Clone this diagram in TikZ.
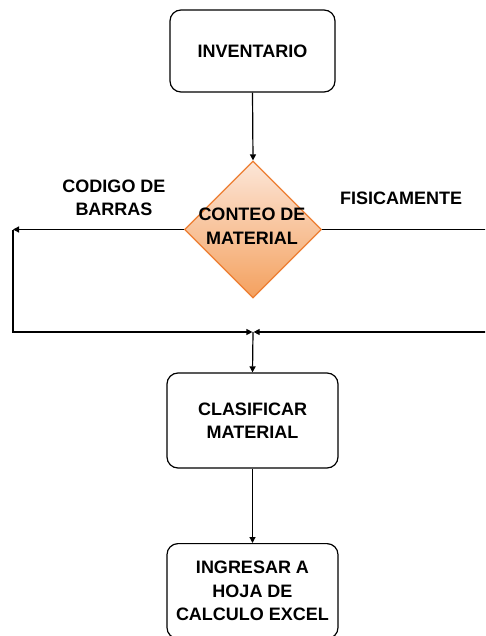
\documentclass[tikz,border=0pt]{standalone}
\usepackage{fontspec}
\setmainfont{Liberation Sans}
\usetikzlibrary{arrows.meta,shapes.geometric}
\definecolor{orbord}{HTML}{ED7D31}
\definecolor{ortop}{HTML}{FCE6D8}
\definecolor{orbot}{HTML}{F4A15F}
\tikzset{
  x=1pt,y=-1pt,
  conn/.style={line width=1.2pt,-{Triangle[length=6pt,width=6pt]}},
  plain/.style={line width=1.2pt},
  procbox/.style={draw,line width=1.2pt,rounded corners=11pt,align=center,
     font=\fontsize{18}{23.5}\selectfont\bfseries},
  lbl/.style={align=center,font=\fontsize{18}{23.5}\selectfont\bfseries},
}
\begin{document}
\begin{tikzpicture}
\useasboundingbox (0,0) rectangle (485,636);
\clip (0,0) rectangle (485,636);
\node[procbox,minimum width=165pt,minimum height=82pt] (inv) at (252.5,51) {INVENTARIO};
\node[draw=orbord,line width=1.2pt,diamond,minimum width=137pt,minimum height=137pt,
      top color=ortop,bottom color=orbot,inner sep=0pt] (dec) at (253,229.5) {};
\node[lbl] (dectxt) at (252,226) {CONTEO DE\\MATERIAL};
\node[procbox,minimum width=171pt,minimum height=95pt] (cla) at (252.5,420.5) {CLASIFICAR\\MATERIAL};
\node[procbox,minimum width=171pt,minimum height=95pt,anchor=north] (ing) at (252.5,543) {INGRESAR A\\HOJA DE\\CALCULO EXCEL};
\node[lbl] (lcod) at (114,198) {CODIGO DE\\BARRAS};
\node[lbl] (lfis) at (401,198) {FISICAMENTE};
\coordinate (L1) at (13,229.5);
\coordinate (L2) at (13,332);
\coordinate (R1) at (492,229.5);
\coordinate (R2) at (492,332);
\coordinate (M) at (253,332);
\draw[conn] (inv.south) -- (dec.north);
\draw[conn] (dec.west) -- (L1);
\draw[conn] (L1) -- (L2) -- ([xshift=-0.6pt]M);
\draw[conn] (dec.east) -- (R1) -- (R2) -- ([xshift=0.6pt]M);
\draw[conn] (M) -- (cla.north);
\draw[conn] (cla.south) -- (ing.north);
\end{tikzpicture}
\end{document}
